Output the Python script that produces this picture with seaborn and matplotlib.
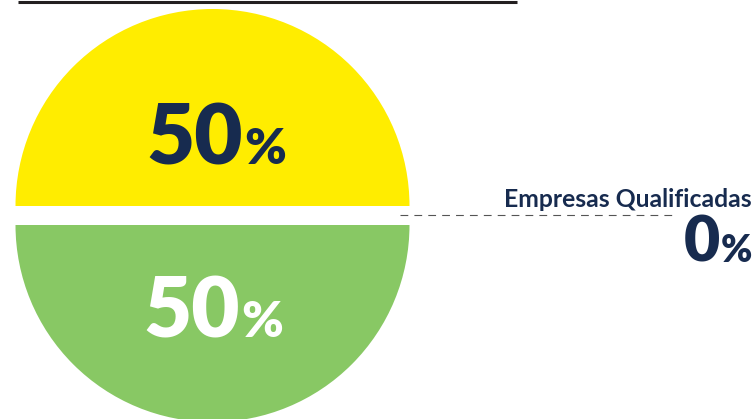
import matplotlib
matplotlib.use("Agg")
import matplotlib.pyplot as plt
import seaborn as sns

# dados do gráfico
categorias = ["Empresas Não Qualificadas", "Empresas Em Análise", "Empresas Qualificadas"]
valores = [50, 50, 0]
cores = ["#FFED00", "#88C864", "#FFFFFF"]
cor_texto = ["#172B4F", "#FFFFFF", "#172B4F"]

sns.set_theme(style="white")
plt.rcParams["font.family"] = ["Lato", "DejaVu Sans"]

W, H = 755, 419
fig = plt.figure(figsize=(W / 100, H / 100), dpi=100)
ax = fig.add_axes([0, 0, 1, 1])

NAVY = "#172B4F"
cx, cy, r = 212.5, H - 215.5, 197
gap = 9.5  # deslocamento de cada metade (px)

# fatias com valor > 0
fatias = [(v, c) for v, c in zip(valores, cores) if v > 0]
ax.pie([v for v, _ in fatias], colors=[c for _, c in fatias], center=(cx, cy),
       radius=r, startangle=0, counterclock=True, explode=[gap] * len(fatias),
       wedgeprops=dict(linewidth=0), frame=True)
ax.set_xlim(0, W)
ax.set_ylim(0, H)
ax.set_aspect("equal")
ax.set_axis_off()

# rótulos internos
pos_txt = [(243, H - 164), (240, H - 337)]
for (x, y), v, tc in zip(pos_txt, valores[:2], cor_texto[:2]):
    ax.text(x, y, f"{v}", ha="right", va="baseline", fontsize=60,
            fontweight="heavy", color=tc)
    ax.text(x + 1, y, "%", ha="left", va="baseline", fontsize=36,
            fontweight="heavy", color=tc)

# categoria com 0%
ax.plot([400, 672], [H - 215, H - 215], color="#555555", lw=0.8,
        linestyle=(0, (7, 5.5)))
ax.text(752, H - 207, categorias[2], ha="right", va="baseline", fontsize=17.8,
        fontweight="bold", color=NAVY)
ax.text(720, H - 262, f"{valores[2]}", ha="right", va="baseline", fontsize=45,
        fontweight="heavy", color=NAVY)
ax.text(721, H - 262, "%", ha="left", va="baseline", fontsize=27,
        fontweight="heavy", color=NAVY)

# linha preta no topo
ax.plot([18, 517], [H - 1.5, H - 1.5], color="#231F20", lw=2.2,
        solid_capstyle="butt")

fig.savefig("out.png", dpi=100)
